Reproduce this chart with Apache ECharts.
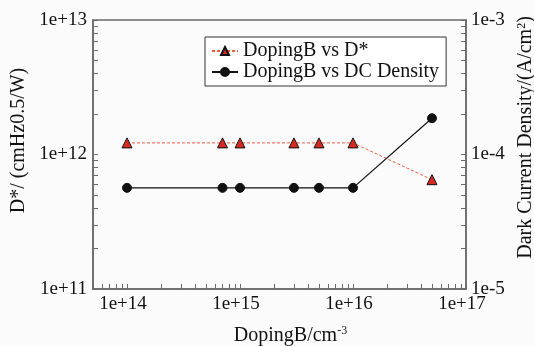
<!DOCTYPE html>
<html>
<head>
<meta charset="utf-8">
<script src="https://cdn.jsdelivr.net/npm/echarts@6/dist/echarts.min.js"></script>
<style>
  html, body { margin: 0; padding: 0; background: #fbfbfb; }
  #chart { width: 534px; height: 346px; }
</style>
</head>
<body>
<div id="chart"></div>
<script>
// data
const doping = [1e14, 7e14, 1e15, 3e15, 5e15, 1e16, 5e16];
const detectivity = [1.22e12, 1.22e12, 1.22e12, 1.22e12, 1.22e12, 1.22e12, 6.5e11];
const dcDensity = [5.65e-5, 5.65e-5, 5.65e-5, 5.65e-5, 5.65e-5, 5.65e-5, 1.86e-4];

const xLabels = [1e14, 1e15, 1e16, 1e17];
const leftLabels = [1e11, 1e12, 1e13];
const rightLabels = [1e-5, 1e-4, 1e-3];

// tick marks at 1..9 x 10^n
function logTicks(lo, hi) {
  const out = [];
  for (let e = lo; e < hi; e++) {
    for (let m = 1; m < 10; m++) out.push(m * Math.pow(10, e));
  }
  out.push(Math.pow(10, hi));
  return out;
}

function sciLabel(v) {
  const e = Math.round(Math.log10(v));
  return '1e' + (e >= 0 ? '+' : '') + e;
}

const font = 'Liberation Serif';
const axisColor = '#6a6a6a';

let chart = echarts.init(document.getElementById('chart'));
chart.setOption({
  backgroundColor: '#fbfbfb',
  animation: false,
  textStyle: { fontFamily: font },
  grid: {
    left: 93, right: 68, top: 20, bottom: 57,
    outerBoundsMode: 'none',
    containLabel: false,
    show: true, borderColor: axisColor, borderWidth: 1.5, backgroundColor: 'transparent'
  },
  legend: {
    orient: 'vertical',
    left: 205, top: 37,
    width: 240,
    padding: [4, 7, 4, 6],
    itemGap: 1,
    itemWidth: 26, itemHeight: 10,
    borderColor: '#333', borderWidth: 1,
    backgroundColor: '#fff',
    textStyle: { fontFamily: font, fontSize: 20, color: '#111' },
    data: ['DopingB vs D*', 'DopingB vs DC Density']
  },
  xAxis: {
    type: 'log', logBase: 10,
    min: 5e13, max: 1e17,
    name: 'DopingB/cm{sup|-3}',
    nameLocation: 'middle', nameGap: 36,
    nameTextStyle: {
      fontFamily: font, fontSize: 20, color: '#111', padding: [0, 0, 0, 22],
      rich: { sup: { fontSize: 12, fontFamily: font, color: '#111', padding: [0, 0, 9, 0] } }
    },
    axisLine: { lineStyle: { color: axisColor, width: 1.5 } },
    axisTick: {
      show: true, inside: true, length: 5,
      customValues: logTicks(13, 17).filter(v => v >= 5e13),
      lineStyle: { color: axisColor, width: 1 }
    },
    axisLabel: {
      customValues: xLabels, formatter: sciLabel,
      fontFamily: font, fontSize: 19, color: '#111', margin: 6,
      padding: [0, 8, 0, 0]
    },
    splitLine: { show: false },
    minorTick: { show: false }
  },
  yAxis: [
    {
      type: 'log', logBase: 10,
      min: 1e11, max: 1e13,
      position: 'left',
      name: 'D*/ (cmHz0.5/W)',
      nameLocation: 'middle', nameGap: 61, nameRotate: 90,
      nameTextStyle: { fontFamily: font, fontSize: 20, color: '#111', padding: [0, 0, 0, 28] },
      axisLine: { show: true, lineStyle: { color: axisColor, width: 1.5 } },
      axisTick: {
        show: true, inside: true, length: 5,
        customValues: logTicks(11, 13),
        lineStyle: { color: axisColor, width: 1 }
      },
      axisLabel: {
        customValues: leftLabels, formatter: sciLabel,
        fontFamily: font, fontSize: 19, color: '#111', margin: 6
      },
      splitLine: { show: false }
    },
    {
      type: 'log', logBase: 10,
      min: 1e-5, max: 1e-3,
      position: 'right',
      name: 'Dark Current Density/(A/cm{sup|2})',
      nameLocation: 'middle', nameGap: 45, nameRotate: 90,
      nameTextStyle: {
        fontFamily: font, fontSize: 20, color: '#111', padding: [0, 0, 0, 34],
        rich: { sup: { fontSize: 12, fontFamily: font, color: '#111', padding: [0, 0, 9, 0] } }
      },
      axisLine: { show: true, lineStyle: { color: axisColor, width: 1.5 } },
      axisTick: {
        show: true, inside: true, length: 5,
        customValues: logTicks(-5, -3),
        lineStyle: { color: axisColor, width: 1 }
      },
      axisLabel: {
        customValues: rightLabels, formatter: sciLabel,
        fontFamily: font, fontSize: 19, color: '#111', margin: 5
      },
      splitLine: { show: false }
    }
  ],
  series: [
    {
      name: 'DopingB vs D*',
      type: 'line',
      yAxisIndex: 0,
      data: doping.map((x, i) => [x, detectivity[i]]),
      symbol: 'triangle', symbolSize: 10,
      lineStyle: { color: '#ee5a3c', width: 1, type: [3, 2] },
      itemStyle: { color: '#d42a22', borderColor: '#111', borderWidth: 1 }
    },
    {
      name: 'DopingB vs DC Density',
      type: 'line',
      yAxisIndex: 1,
      data: doping.map((x, i) => [x, dcDensity[i]]),
      symbol: 'circle', symbolSize: 9,
      lineStyle: { color: '#111', width: 1.2 },
      itemStyle: { color: '#111', borderColor: '#111', borderWidth: 1 }
    }
  ]
});
</script>
</body>
</html>
